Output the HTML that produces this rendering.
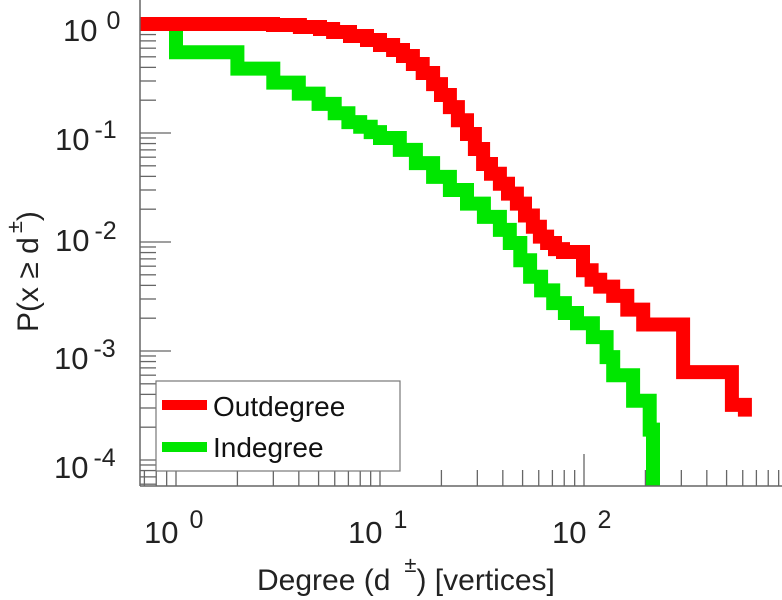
<!DOCTYPE html>
<html><head><meta charset="utf-8"><style>
html,body{margin:0;padding:0;background:#fff;}
svg{display:block;font-family:"Liberation Sans",Arial,sans-serif;}
</style></head><body>
<svg id="chart" width="782" height="600" viewBox="0 0 782 600" xmlns="http://www.w3.org/2000/svg">
  <defs><clipPath id="plotclip"><rect x="140" y="0" width="642" height="486"/></clipPath></defs>
  <g id="ticks"></g>
  <g id="series" clip-path="url(#plotclip)"></g>
  <line x1="140" y1="0" x2="140" y2="486" stroke="#666" stroke-width="1.5"/>
  <line x1="140" y1="486" x2="782" y2="486" stroke="#666" stroke-width="1.5"/>
  <g id="labels" fill="#222"></g>
  <text x="257" y="590" font-size="30" fill="#222">Degree (d<tspan dx="14" dy="-18" font-size="22">±</tspan><tspan dy="18">) [vertices]</tspan></text>
  <text transform="translate(38,332) rotate(-90)" font-size="30" fill="#222">P(x ≥ d<tspan dx="4" dy="-16" font-size="22">±</tspan><tspan dy="16">)</tspan></text>
  <g>
    <rect x="156" y="381" width="244" height="90" fill="#fff" stroke="#777" stroke-width="1.2"/>
    <line x1="162" y1="405" x2="207" y2="405" stroke="#ff0000" stroke-width="10"/>
    <text x="213" y="416" font-size="28" fill="#111">Outdegree</text>
    <line x1="162" y1="447" x2="207" y2="447" stroke="#00e600" stroke-width="10"/>
    <text x="213" y="457" font-size="28" fill="#111">Indegree</text>
  </g>
</svg>
<script>
const outDegree = [0.667, 2.99, 4.05, 5.08, 5.89, 7.13, 8.64, 10.0, 11.6, 12.97, 14.5, 16.2, 18.2, 19.9, 22.0, 24.1, 26.7, 29.2, 32.0, 35.0, 38.7, 42.4, 46.9, 51.4, 56.2, 60.8, 65.9, 72.1, 78.9, 98.9, 109, 120, 139, 163, 195, 306, 531, 615];
const outProb   = [1, 0.979, 0.939, 0.90, 0.845, 0.776, 0.713, 0.642, 0.577, 0.509, 0.430, 0.355, 0.281, 0.223, 0.173, 0.131, 0.098, 0.0713, 0.052, 0.0422, 0.0342, 0.0278, 0.0225, 0.0175, 0.0138, 0.0112, 0.0098, 0.0086, 0.0081, 0.0055, 0.0045, 0.0039, 0.0032, 0.0024, 0.00175, 0.00064, 0.00032, 0.00025];
const inDegree  = [0.667, 1, 2, 3, 4, 5, 6, 7, 8, 9, 10, 12.5, 15.0, 18.2, 22.0, 26.7, 32.3, 38.7, 43.3, 48.7, 54.4, 61.6, 70.6, 80.6, 92.4, 110.6, 129, 139, 174, 210, 218];
const inProb    = [1, 0.55, 0.39, 0.29, 0.23, 0.185, 0.152, 0.126, 0.114, 0.102, 0.090, 0.070, 0.053, 0.0396, 0.030, 0.0225, 0.017, 0.0129, 0.0098, 0.0068, 0.0048, 0.0036, 0.00275, 0.00223, 0.0018, 0.00134, 0.00088, 0.0006, 0.00035, 0.00019, 0.00001];
const xDecades = [0, 1, 2];
const yDecades = [0, -1, -2, -3, -4];

const NS = "http://www.w3.org/2000/svg";
function X(d){ return 176 + 204 * Math.log10(d); }
function Y(p){ return 24 - 109 * Math.log10(p); }
function mk(tag, attrs, parent){ const e = document.createElementNS(NS, tag); for (const k in attrs) e.setAttribute(k, attrs[k]); parent.appendChild(e); return e; }

const ticks = document.getElementById('ticks');
for (let e = 1; e >= -5; e--) {
  for (let m = 1; m <= 9; m++) {
    const p = m * Math.pow(10, e), y = Y(p);
    if (y < 2 || y > 486) continue;
    const len = m === 1 ? 31 : 16;
    const t = mk('line', {x1:140, y1:y, x2:140+len, y2:y, stroke:'#666', 'stroke-width':1.3}, ticks);
    
    
  }
}
for (let e = -1; e <= 3; e++) {
  for (let m = 1; m <= 9; m++) {
    const d = m * Math.pow(10, e), x = X(d);
    if (x < 141 || x > 781) continue;
    const len = m === 1 ? 32 : 16;
    const t = mk('line', {x1:x, y1:486, x2:x, y2:486-len, stroke:'#666', 'stroke-width':1.3}, ticks);
    
    
  }
}

const series = document.getElementById('series');
function stairs(deg, prob, color, name){
  let d = 'M' + X(deg[0]).toFixed(1) + ' ' + Y(prob[0]).toFixed(1);
  for (let i = 1; i < deg.length; i++) {
    d += ' H' + X(deg[i]).toFixed(1) + ' V' + Y(prob[i]).toFixed(1);
  }
  const p = mk('path', {d:d, fill:'none', stroke:color, 'stroke-width':14, 'stroke-linejoin':'miter', 'stroke-linecap':'butt'}, series);
  
  
}
stairs(inDegree, inProb, '#00e600', 'indegree-line');
stairs(outDegree, outProb, '#ff0000', 'outdegree-line');

const labels = document.getElementById('labels');
const yBase = [41, 150, 251, 369, 478];
const yStart = [63, 55, 55, 54, 54];
yDecades.forEach((e, i) => {
  const t = mk('text', {x:yStart[i], y:yBase[i], 'font-size':31}, labels);
  
  
  t.textContent = '10';
  const s = mk('tspan', {dx:(e === 0 ? 9 : 5), dy:-12, 'font-size':25}, t);
  s.textContent = String(e);
});
xDecades.forEach((e) => {
  const t = mk('text', {x:X(Math.pow(10, e)) - 32, y:543, 'font-size':31}, labels);
  
  
  t.textContent = '10';
  const s = mk('tspan', {dx:11, dy:-15, 'font-size':25}, t);
  s.textContent = String(e);
});
</script>
</body></html>
